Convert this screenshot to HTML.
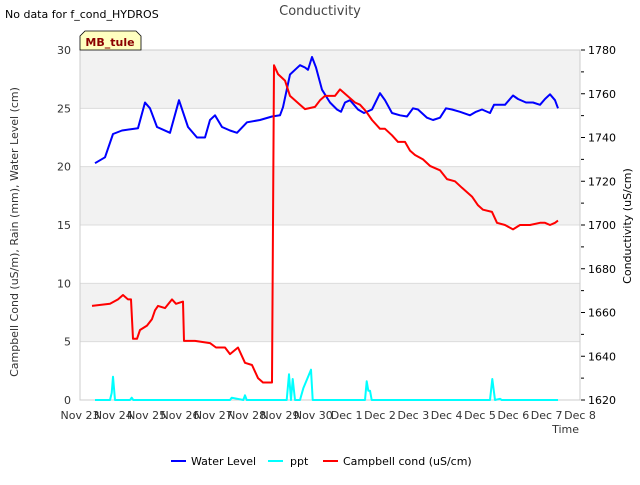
<!DOCTYPE html>
<html><head><meta charset="utf-8"><style>
body{margin:0;background:#fff;font-family:"Liberation Sans","DejaVu Sans",sans-serif}
svg text{font-family:"DejaVu Sans","Liberation Sans",sans-serif}
</style></head><body>
<svg id="c" width="640" height="480" xmlns="http://www.w3.org/2000/svg">
<text x="5" y="18" font-size="11" fill="#000">No data for f_cond_HYDROS</text>
<text x="320" y="15" font-size="13" fill="#444" text-anchor="middle">Conductivity</text>
<g id="plot"></g>
<text x="579" y="433" font-size="11" fill="#333" text-anchor="end">Time</text>
<text transform="translate(18,232) rotate(-90)" font-size="11" fill="#333" text-anchor="middle">Campbell Cond (uS/m), Rain (mm), Water Level (cm)</text>
<text transform="translate(631,226) rotate(-90)" font-size="11" fill="#000" text-anchor="middle">Conductivity (uS/cm)</text>
<g>
<path d="M80,50 L80,36 L85,31 L136,31 L141,36 L141,50 Z" fill="#ffffc0" stroke="#000" stroke-width="0.8"/>
<text x="110" y="46" font-size="11" font-weight="bold" fill="#8b0000" text-anchor="middle">MB_tule</text>
</g>
<g>
<line x1="171" y1="461" x2="186" y2="461" stroke="#0000ff" stroke-width="2"/>
<text x="191" y="465" font-size="11">Water Level</text>
<line x1="268" y1="461" x2="283" y2="461" stroke="#00ffff" stroke-width="2"/>
<text x="290" y="465" font-size="11">ppt</text>
<line x1="323" y1="461" x2="338" y2="461" stroke="#ff0000" stroke-width="2"/>
<text x="343" y="465" font-size="11">Campbell cond (uS/cm)</text>
</g>
</svg>
<script>
const xTickLabels=["Nov 23","Nov 24","Nov 25","Nov 26","Nov 27","Nov 28","Nov 29","Nov 30","Dec 1","Dec 2","Dec 3","Dec 4","Dec 5","Dec 6","Dec 7","Dec 8"];
const leftTicks=[0,5,10,15,20,25,30];
const rightTicks=[1620,1640,1660,1680,1700,1720,1740,1760,1780];
const wlDays=[0.45,0.75,0.99,1.26,1.74,1.95,2.1,2.31,2.7,2.97,3.24,3.51,3.75,3.9,4.05,4.26,4.5,4.71,5.01,5.4,5.76,6.0,6.09,6.3,6.45,6.6,6.75,6.84,6.96,7.08,7.26,7.5,7.71,7.83,7.95,8.1,8.34,8.52,8.76,9.0,9.15,9.36,9.6,9.81,9.99,10.14,10.41,10.59,10.8,10.98,11.16,11.4,11.7,11.88,12.06,12.3,12.42,12.75,12.99,13.14,13.38,13.59,13.8,13.95,14.1,14.25,14.34];
const wlValues=[20.3,20.8,22.8,23.1,23.3,25.5,25.0,23.4,22.9,25.7,23.4,22.5,22.5,24.0,24.4,23.4,23.1,22.9,23.8,24.0,24.3,24.4,25.1,27.9,28.3,28.7,28.5,28.3,29.4,28.5,26.6,25.5,24.9,24.7,25.5,25.7,24.9,24.6,24.9,26.3,25.7,24.6,24.4,24.3,25.0,24.9,24.2,24.0,24.2,25.0,24.9,24.7,24.4,24.7,24.9,24.6,25.3,25.3,26.1,25.8,25.5,25.5,25.3,25.8,26.2,25.7,25.0];
const pptDays=[0.45,0.9,0.95,0.99,1.05,1.5,1.55,1.6,4.5,4.55,4.9,4.95,5.0,6.2,6.27,6.33,6.38,6.45,6.6,6.7,6.93,6.98,8.55,8.6,8.65,8.7,8.75,12.3,12.37,12.45,12.6,12.65,14.34];
const pptValues=[0,0,0.6,2.0,0,0,0.2,0,0,0.2,0,0.4,0,0,2.2,0,1.8,0,0,1.0,2.6,0,0,1.6,0.8,0.8,0,0,1.8,0,0.1,0,0];
const condDays=[0.36,0.9,1.14,1.29,1.44,1.53,1.59,1.71,1.8,2.01,2.16,2.25,2.34,2.55,2.76,2.88,3.09,3.12,3.45,3.9,4.08,4.35,4.5,4.74,4.95,5.16,5.34,5.49,5.76,5.82,5.94,6.15,6.3,6.6,6.75,7.05,7.2,7.35,7.65,7.8,7.95,8.1,8.25,8.4,8.58,8.76,9.0,9.15,9.36,9.54,9.75,9.9,10.05,10.29,10.5,10.8,11.01,11.25,11.46,11.76,11.94,12.09,12.36,12.51,12.75,12.99,13.2,13.5,13.8,13.95,14.1,14.25,14.34];
const condValues=[1663,1664,1666,1668,1666,1666,1648,1648,1652,1654,1657,1661,1663,1662,1666,1664,1665,1647,1647,1646,1644,1644,1641,1644,1637,1636,1630,1628,1628,1773,1769,1766,1759,1755,1753,1754,1757,1759,1759,1762,1760,1758,1756,1755,1752,1748,1744,1744,1741,1738,1738,1734,1732,1730,1727,1725,1721,1720,1717,1713,1709,1707,1706,1701,1700,1698,1700,1700,1701,1701,1700,1701,1702];

const X0=80,X1=580,Y0=400,Y1=50;
const xs=d=>X0+d*(X1-X0)/15;
const yl=v=>Y0-v*(Y0-Y1)/30;
const yr=v=>Y0-(v-1620)*(Y0-Y1)/160;
const NS="http://www.w3.org/2000/svg";
const g=document.getElementById('plot');
function mk(t,a){const e=document.createElementNS(NS,t);for(const k in a)e.setAttribute(k,a[k]);g.appendChild(e);return e;}
// bands
for(let i=0;i<6;i+=2){
 const r=mk('rect',{x:X0,y:yl(30-i*5),width:X1-X0,height:yl(25-i*5)-yl(30-i*5),fill:'#f2f2f2'});
 
 
}
leftTicks.forEach(v=>{
 const l=mk('line',{x1:X0,x2:X1,y1:yl(v),y2:yl(v),stroke:'#dcdcdc','stroke-width':1});
 
 
 const t=mk('text',{x:X0-9,y:yl(v)+4,'font-size':11,fill:'#333','text-anchor':'end'});
 t.textContent=v;
 
 
});
const fr=mk('rect',{x:X0,y:Y1,width:X1-X0,height:Y0-Y1,fill:'none',stroke:'#ccc'});


rightTicks.forEach((v,i)=>{
 const t=mk('text',{x:588,y:yr(v)+4,'font-size':11,fill:'#000'});
 t.textContent=v;
 
 
 if(i<rightTicks.length-1){const m=mk('line',{x1:X1+1,x2:X1+4,y1:yr(v+10),y2:yr(v+10),stroke:'#000'});
 
 }
 const tk=mk('line',{x1:X1+1,x2:X1+5,y1:yr(v),y2:yr(v),stroke:'#000'});
 
 
});
xTickLabels.forEach((s,i)=>{
 const t=mk('text',{x:xs(i),y:Y0+19,'font-size':11,fill:'#333','text-anchor':'middle'});
 t.textContent=s;
 
 
});
function line(ds,vs,sc,col,name){
 const n=Math.min(ds.length,vs.length);let p='';
 for(let i=0;i<n;i++)p+=(i?'L':'M')+xs(ds[i]).toFixed(1)+','+sc(vs[i]).toFixed(1);
 const e=mk('path',{d:p,fill:'none',stroke:col,'stroke-width':2,'stroke-linejoin':'round'});
 
 
}
line(pptDays,pptValues,yl,'#00ffff','ppt-line');
line(wlDays,wlValues,yl,'#0000ff','water-level-line');
line(condDays,condValues,yr,'#ff0000','campbell-cond-line');
</script>
</body></html>
